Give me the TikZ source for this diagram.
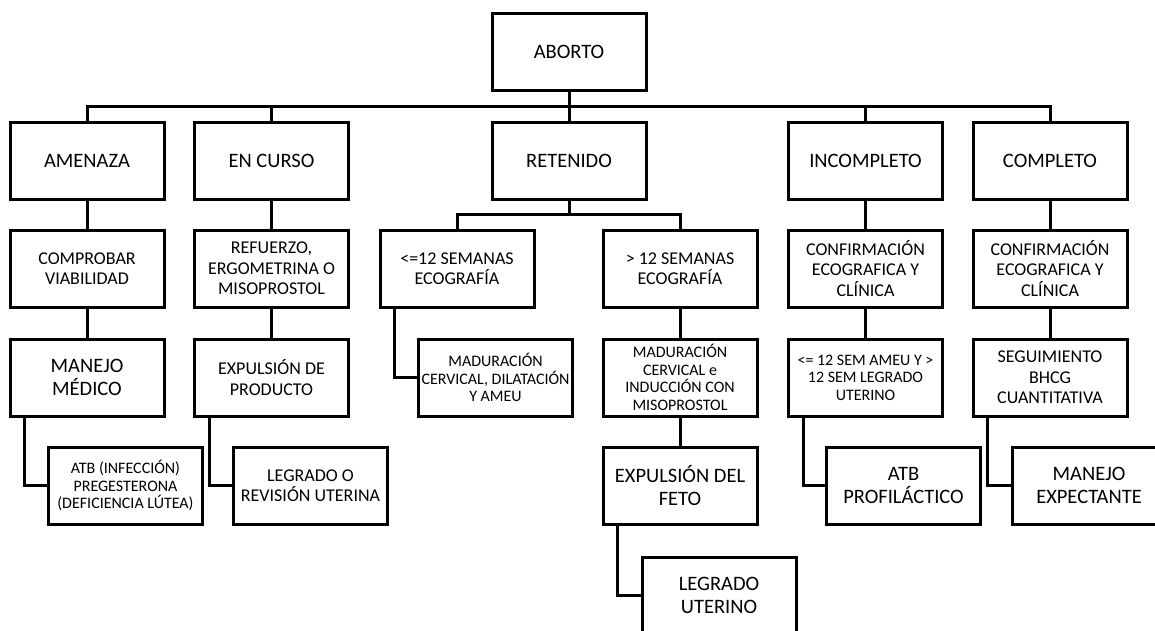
\documentclass[tikz,border=0pt]{standalone}
\usepackage{fontspec}
\setmainfont{Carlito}
\usepackage{tikz}

\begin{document}
\begin{tikzpicture}[
        x=1pt,y=-1pt,
        box/.style={draw,line width=3pt,minimum width=154pt,minimum height=77pt,
                    inner sep=0pt,align=center},
        txtbig/.style={font={\fontsize{20.5}{23}\selectfont}},
        txtmid/.style={font={\fontsize{18}{20.5}\selectfont}},
        txtsmall/.style={font={\fontsize{16}{17.5}\selectfont}},
        link/.style={line width=3pt}
        ]

        % Frame
        \useasboundingbox (0,0) rectangle (1155,630);
        \clip (0,0) rectangle (1155,630);

        % Root and first level
        \node[box,txtbig] (aborto) at (569,51.5) {ABORTO};
        \node[box,txtbig] (amenaza) at (87,160.5) {AMENAZA};
        \node[box,txtbig] (encurso) at (271.5,160.5) {EN CURSO};
        \node[box,txtbig] (retenido) at (569,160.5) {RETENIDO};
        \node[box,txtbig] (incompleto) at (865.5,160.5) {INCOMPLETO};
        \node[box,txtbig] (completo) at (1050,160.5) {COMPLETO};

        % Second level
        \node[box,txtmid] (comprobar) at (87,268.5) {COMPROBAR\\VIABILIDAD};
        \node[box,txtmid] (refuerzo) at (271.5,268.5) {REFUERZO,\\ERGOMETRINA O\\MISOPROSTOL};
        \node[box,txtmid] (menosdoce) at (457,268.5) {<=12 SEMANAS\\ECOGRAFÍA};
        \node[box,txtmid] (masdoce) at (680,268.5) {> 12 SEMANAS\\ECOGRAFÍA};
        \node[box,txtmid] (confirmA) at (865.5,268.5) {CONFIRMACIÓN\\ECOGRAFICA Y\\CLÍNICA};
        \node[box,txtmid] (confirmB) at (1050,268.5) {CONFIRMACIÓN\\ECOGRAFICA Y\\CLÍNICA};

        % Third level
        \node[box,txtbig] (manejo) at (87,377.5) {MANEJO\\MÉDICO};
        \node[box,txtmid] (expulsion) at (271.5,377.5) {EXPULSIÓN DE\\PRODUCTO};
        \node[box,txtsmall] (madurA) at (495.5,377.5) {MADURACIÓN\\CERVICAL, DILATACIÓN\\Y AMEU};
        \node[box,txtsmall] (madurB) at (680,377.5) {MADURACIÓN\\CERVICAL e\\INDUCCIÓN CON\\MISOPROSTOL};
        \node[box,txtsmall] (semana) at (865.5,377.5) {<= 12 SEM AMEU Y >\\12 SEM LEGRADO\\UTERINO};
        \node[box,txtmid] (seguimiento) at (1050,377.5) {SEGUIMIENTO\\BHCG\\CUANTITATIVA};

        % Fourth and fifth level
        \node[box,txtsmall] (atbinf) at (125.5,485.5) {ATB (INFECCIÓN)\\PREGESTERONA\\(DEFICIENCIA LÚTEA)};
        \node[box,txtmid] (legradorev) at (310.5,485.5) {LEGRADO O\\REVISIÓN UTERINA};
        \node[box,txtbig] (feto) at (680,485.5) {EXPULSIÓN DEL\\FETO};
        \node[box,txtbig] (atbprof) at (903.5,485.5) {ATB\\PROFILÁCTICO};
        \node[box,txtbig] (expectante) at (1089,485.5) {MANEJO\\EXPECTANTE};
        \node[box,txtbig] (legradout) at (719,595.5) {LEGRADO\\UTERINO};

        % Buses
        \coordinate (bus) at (569,106);
        \coordinate (subbus) at (569,214);
        \draw[link] (aborto.south) -- (retenido.north);
        \draw[link] (amenaza.north) |- (bus) -| (completo.north);
        \draw[link] (encurso.north) -- (encurso.north |- bus);
        \draw[link] (incompleto.north) -- (incompleto.north |- bus);
        \draw[link] (retenido.south) -- (subbus);
        \draw[link] (menosdoce.north) |- (subbus) -| (masdoce.north);

        % Straight links
        \draw[link] (amenaza) -- (comprobar);
        \draw[link] (comprobar) -- (manejo);
        \draw[link] (encurso) -- (refuerzo);
        \draw[link] (refuerzo) -- (expulsion);
        \draw[link] (masdoce) -- (madurB);
        \draw[link] (madurB) -- (feto);
        \draw[link] (incompleto) -- (confirmA);
        \draw[link] (confirmA) -- (semana);
        \draw[link] (completo) -- (confirmB);
        \draw[link] (confirmB) -- (seguimiento);

        % Elbow links
        \draw[link] ([xshift=16pt]manejo.south west) |- (atbinf.west);
        \draw[link] ([xshift=16pt]expulsion.south west) |- (legradorev.west);
        \draw[link] ([xshift=16pt]menosdoce.south west) |- (madurA.west);
        \draw[link] ([xshift=16pt]feto.south west) |- (legradout.west);
        \draw[link] ([xshift=16pt]semana.south west) |- (atbprof.west);
        \draw[link] ([xshift=16pt]seguimiento.south west) |- (expectante.west);
    \end{tikzpicture}
\end{document}
